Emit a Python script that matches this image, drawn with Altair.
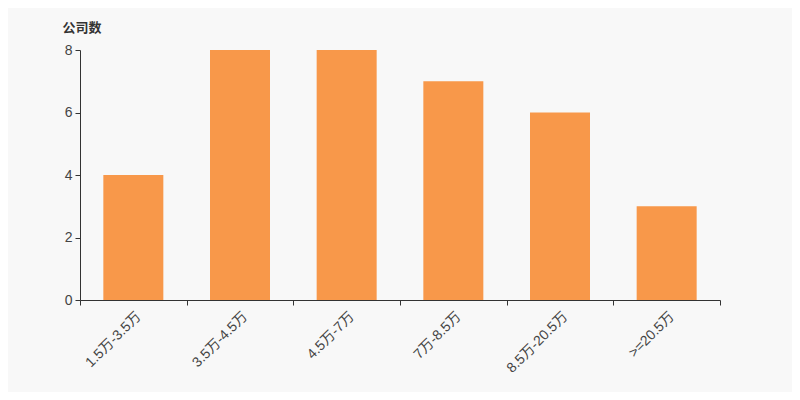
import altair as alt
import pandas as pd

categories = ["1.5万-3.5万", "3.5万-4.5万", "4.5万-7万", "7万-8.5万", "8.5万-20.5万", ">=20.5万"]
counts = [4, 8, 8, 7, 6, 3]

df = pd.DataFrame({"range": categories, "count": counts})

FONT = "Liberation Sans, Noto Sans CJK SC, sans-serif"

chart = alt.Chart(df).mark_bar(color="#f8984a", width=alt.RelativeBandSize(0.5625)).encode(
    x=alt.X("range:N", sort=categories,
            scale=alt.Scale(paddingInner=0, paddingOuter=0),
            axis=alt.Axis(title=None, labelAngle=-45, labelFontSize=14, labelColor="#444",
                          labelFont=FONT, domainColor="#333", tickColor="#333",
                          tickSize=5, tickBand="extent", labelPadding=4)),
    y=alt.Y("count:Q", scale=alt.Scale(domain=[0, 8]),
            axis=alt.Axis(values=[0, 2, 4, 6, 8], grid=False, title="公司数",
                          titleAngle=0, titleAlign="left", titleX=-18, titleY=-16,
                          titleFontSize=13, titleFontWeight="bold", titleColor="#333",
                          titleFont=FONT, labelFontSize=14, labelColor="#444",
                          labelFont=FONT, domainColor="#333", tickColor="#333",
                          tickSize=5, labelPadding=3)),
).properties(
    width=640, height=250,
    autosize=alt.AutoSizeParams(type="none"),
    padding={"left": 72, "top": 42, "right": 72, "bottom": 92},
    background="#f8f8f8",
).configure_view(stroke=None)

chart.save("out.html", embed_options={"renderer": "svg", "actions": False})
